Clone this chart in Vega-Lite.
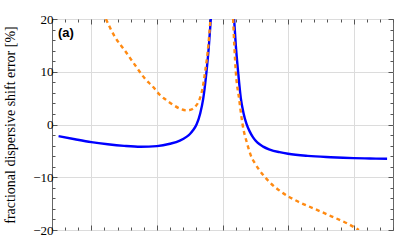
{
  "$schema": "https://vega.github.io/schema/vega-lite/v6.json",
  "width": 341,
  "height": 211,
  "autosize": "none",
  "padding": {"left": 52, "top": 19, "right": 2, "bottom": 20},
  "background": "white",
  "config": {
    "view": {"stroke": "#666666", "strokeWidth": 1},
    "axis": {"domain": false, "tickColor": "#555555", "tickWidth": 1}
  },
  "datasets": {
    "curves": [
      {"s": "blue", "b": "L", "x": 0.5, "y": -2.2},
      {"s": "blue", "b": "L", "x": 0.75, "y": -2.8},
      {"s": "blue", "b": "L", "x": 1.0, "y": -3.35},
      {"s": "blue", "b": "L", "x": 1.25, "y": -3.75},
      {"s": "blue", "b": "L", "x": 1.5, "y": -4.05},
      {"s": "blue", "b": "L", "x": 1.75, "y": -4.22},
      {"s": "blue", "b": "L", "x": 2.0, "y": -4.1},
      {"s": "blue", "b": "L", "x": 2.2, "y": -3.65},
      {"s": "blue", "b": "L", "x": 2.35, "y": -3.05},
      {"s": "blue", "b": "L", "x": 2.45, "y": -2.35},
      {"s": "blue", "b": "L", "x": 2.5, "y": -1.85},
      {"s": "blue", "b": "L", "x": 2.55, "y": -1.1},
      {"s": "blue", "b": "L", "x": 2.604, "y": 0},
      {"s": "blue", "b": "L", "x": 2.66, "y": 2.1},
      {"s": "blue", "b": "L", "x": 2.705, "y": 4.8},
      {"s": "blue", "b": "L", "x": 2.756, "y": 10},
      {"s": "blue", "b": "L", "x": 2.79, "y": 14.5},
      {"s": "blue", "b": "L", "x": 2.822, "y": 20},
      {"s": "blue", "b": "R", "x": 3.177, "y": 20},
      {"s": "blue", "b": "R", "x": 3.203, "y": 15},
      {"s": "blue", "b": "R", "x": 3.238, "y": 10},
      {"s": "blue", "b": "R", "x": 3.279, "y": 5.0},
      {"s": "blue", "b": "R", "x": 3.32, "y": 2.2},
      {"s": "blue", "b": "R", "x": 3.366, "y": 0.1},
      {"s": "blue", "b": "R", "x": 3.416, "y": -1.35},
      {"s": "blue", "b": "R", "x": 3.466, "y": -2.45},
      {"s": "blue", "b": "R", "x": 3.53, "y": -3.4},
      {"s": "blue", "b": "R", "x": 3.62, "y": -4.2},
      {"s": "blue", "b": "R", "x": 3.72, "y": -4.75},
      {"s": "blue", "b": "R", "x": 3.87, "y": -5.25},
      {"s": "blue", "b": "R", "x": 4.0, "y": -5.55},
      {"s": "blue", "b": "R", "x": 4.3, "y": -5.95},
      {"s": "blue", "b": "R", "x": 4.65, "y": -6.2},
      {"s": "blue", "b": "R", "x": 5.0, "y": -6.38},
      {"s": "blue", "b": "R", "x": 5.25, "y": -6.45},
      {"s": "blue", "b": "R", "x": 5.51, "y": -6.5},
      {"s": "orange", "b": "L", "x": 1.222, "y": 20},
      {"s": "orange", "b": "L", "x": 1.36, "y": 16.6},
      {"s": "orange", "b": "L", "x": 1.512, "y": 14.0},
      {"s": "orange", "b": "L", "x": 1.664, "y": 11.3},
      {"s": "orange", "b": "L", "x": 1.817, "y": 8.7},
      {"s": "orange", "b": "L", "x": 1.943, "y": 7.1},
      {"s": "orange", "b": "L", "x": 2.045, "y": 5.6},
      {"s": "orange", "b": "L", "x": 2.147, "y": 4.6},
      {"s": "orange", "b": "L", "x": 2.25, "y": 3.7},
      {"s": "orange", "b": "L", "x": 2.35, "y": 3.0},
      {"s": "orange", "b": "L", "x": 2.452, "y": 2.66},
      {"s": "orange", "b": "L", "x": 2.52, "y": 2.8},
      {"s": "orange", "b": "L", "x": 2.578, "y": 3.3},
      {"s": "orange", "b": "L", "x": 2.654, "y": 4.9},
      {"s": "orange", "b": "L", "x": 2.695, "y": 6.8},
      {"s": "orange", "b": "L", "x": 2.735, "y": 10},
      {"s": "orange", "b": "L", "x": 2.784, "y": 15},
      {"s": "orange", "b": "L", "x": 2.817, "y": 20},
      {"s": "orange", "b": "R", "x": 3.162, "y": 20},
      {"s": "orange", "b": "R", "x": 3.18, "y": 15},
      {"s": "orange", "b": "R", "x": 3.203, "y": 10},
      {"s": "orange", "b": "R", "x": 3.253, "y": 4.9},
      {"s": "orange", "b": "R", "x": 3.305, "y": 0.1},
      {"s": "orange", "b": "R", "x": 3.38, "y": -3.8},
      {"s": "orange", "b": "R", "x": 3.43, "y": -5.8},
      {"s": "orange", "b": "R", "x": 3.492, "y": -7.3},
      {"s": "orange", "b": "R", "x": 3.56, "y": -8.6},
      {"s": "orange", "b": "R", "x": 3.65, "y": -10.0},
      {"s": "orange", "b": "R", "x": 3.72, "y": -10.95},
      {"s": "orange", "b": "R", "x": 3.9, "y": -12.8},
      {"s": "orange", "b": "R", "x": 4.15, "y": -14.6},
      {"s": "orange", "b": "R", "x": 4.406, "y": -16.0},
      {"s": "orange", "b": "R", "x": 4.66, "y": -17.4},
      {"s": "orange", "b": "R", "x": 4.91, "y": -18.8},
      {"s": "orange", "b": "R", "x": 5.08, "y": -20}
    ],
    "label": [{"t": "(a)", "x": 0.49, "y": 16.6}]
  },
  "layer": [
    {
      "data": {"name": "curves"},
      "transform": [{"filter": "datum.s == 'blue'"}],
      "mark": {"type": "line", "clip": true, "interpolate": "monotone", "color": "#0000ff", "strokeWidth": 2.4},
      "encoding": {
        "x": {
          "field": "x", "type": "quantitative",
          "scale": {"domain": [0.4, 5.6], "nice": false, "zero": false},
          "axis": {
            "orient": "bottom", "title": null, "labels": false,
            "values": [0.4, 0.6, 0.8, 1, 1.2, 1.4, 1.6, 1.8, 2, 2.2, 2.4, 2.6, 2.8, 3, 3.2, 3.4, 3.6, 3.8, 4, 4.2, 4.4, 4.6, 4.8, 5, 5.2, 5.4, 5.6],
            "grid": true, "gridColor": "#dcdcdc",
            "gridOpacity": {"condition": {"test": "abs(datum.value - round(datum.value)) < 0.01", "value": 1}, "value": 0},
            "tickSize": {"condition": {"test": "abs(datum.value - round(datum.value)) < 0.01", "value": -5}, "value": -3}
          }
        },
        "y": {
          "field": "y", "type": "quantitative",
          "scale": {"domain": [-20, 20], "nice": false, "zero": false},
          "axis": {
            "orient": "left",
            "values": [-20, -18, -16, -14, -12, -10, -8, -6, -4, -2, 0, 2, 4, 6, 8, 10, 12, 14, 16, 18, 20],
            "labelExpr": "datum.value % 10 == 0 ? datum.label : ''",
            "labelFont": "Liberation Serif", "labelFontSize": 13, "labelColor": "#000000",
            "labelPadding": 4, "labelOverlap": false,
            "grid": true, "gridColor": "#dcdcdc",
            "gridOpacity": {"condition": {"test": "datum.value % 10 == 0", "value": 1}, "value": 0},
            "tickSize": {"condition": {"test": "datum.value % 10 == 0", "value": -5}, "value": -3},
            "title": "fractional dispersive shift error [%]",
            "titleFont": "Liberation Serif", "titleFontSize": 14, "titleFontWeight": "normal", "titleColor": "#000000",
            "titleX": -38, "titleY": 105.5, "titleAngle": -90, "titleBaseline": "alphabetic", "titleAlign": "center"
          }
        },
        "detail": {"field": "b"}
      }
    },
    {
      "data": {"name": "curves"},
      "transform": [{"filter": "datum.s == 'orange'"}],
      "mark": {"type": "line", "clip": true, "interpolate": "monotone", "color": "#ff8a12", "strokeWidth": 2.4, "strokeDash": [4, 3.5]},
      "encoding": {
        "x": {
          "field": "x", "type": "quantitative",
          "axis": {
            "orient": "top", "title": null, "labels": false, "grid": false,
            "values": [0.4, 0.6, 0.8, 1, 1.2, 1.4, 1.6, 1.8, 2, 2.2, 2.4, 2.6, 2.8, 3, 3.2, 3.4, 3.6, 3.8, 4, 4.2, 4.4, 4.6, 4.8, 5, 5.2, 5.4, 5.6],
            "tickSize": {"condition": {"test": "abs(datum.value - round(datum.value)) < 0.01", "value": -5}, "value": -3}
          }
        },
        "y": {
          "field": "y", "type": "quantitative",
          "axis": {
            "orient": "right", "title": null, "labels": false, "grid": false,
            "values": [-20, -18, -16, -14, -12, -10, -8, -6, -4, -2, 0, 2, 4, 6, 8, 10, 12, 14, 16, 18, 20],
            "tickSize": {"condition": {"test": "datum.value % 10 == 0", "value": -5}, "value": -3}
          }
        },
        "detail": {"field": "b"}
      }
    },
    {
      "data": {"name": "label"},
      "mark": {"type": "text", "align": "left", "baseline": "alphabetic", "font": "Liberation Sans", "fontSize": 13, "fontWeight": "bold", "color": "#000000"},
      "encoding": {
        "x": {"field": "x", "type": "quantitative", "axis": null},
        "y": {"field": "y", "type": "quantitative", "axis": null},
        "text": {"field": "t"}
      }
    }
  ],
  "resolve": {"axis": {"x": "independent", "y": "independent"}}
}
